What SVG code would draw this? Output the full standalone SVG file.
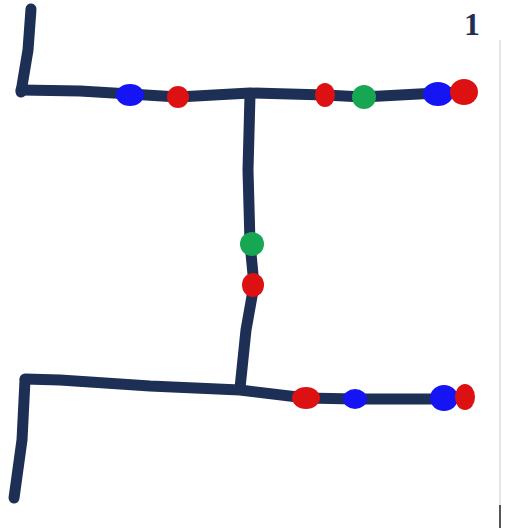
<svg xmlns="http://www.w3.org/2000/svg" width="517" height="528" viewBox="0 0 517 528">
<style>
.ln{fill:none;stroke:#1d2f55;stroke-width:11;stroke-linecap:round;stroke-linejoin:round}
.b{fill:#1414f5}
.r{fill:#dd1111}
.g{fill:#17a752}
</style>
<rect width="517" height="528" fill="#ffffff"/>
<text x="464" y="35" font-family="Liberation Serif, serif" font-weight="bold" font-size="32" fill="#1d2f55">1</text>
<line x1="500" y1="40" x2="500" y2="528" stroke="#dcdcdc" stroke-width="1.5"/>
<line x1="500" y1="505" x2="500" y2="528" stroke="#555" stroke-width="2"/>
<g id="connectors">
<path class="ln" d="M31 9 L28 50 L21 92"/>
<path class="ln" d="M21 90 L80 91 L130 94 L178 97 L250 93 L325 95 L363 97 L437 93 L466 92"/>
<path class="ln" d="M250 95 L248 170 L250 243 L254 285 L246 330 L240 388"/>
<path class="ln" d="M25 379 L60 380 L150 386 L240 390 L306 398 L355 399 L445 399 L466 398"/>
<path class="ln" d="M25 380 L22 440 L14 498"/>
</g>
<g id="dots">
<ellipse class="b" cx="130" cy="95" rx="14" ry="11"/>
<ellipse class="r" cx="178" cy="97" rx="11" ry="11"/>
<ellipse class="r" cx="325" cy="95" rx="10" ry="12"/>
<ellipse class="g" cx="364" cy="97" rx="12" ry="12"/>
<ellipse class="b" cx="438" cy="94" rx="15" ry="12"/>
<ellipse class="r" cx="464" cy="92" rx="14" ry="13"/>
<ellipse class="g" cx="252" cy="244" rx="12" ry="12"/>
<ellipse class="r" cx="253" cy="285" rx="11" ry="12"/>
<ellipse class="r" cx="306" cy="398" rx="14" ry="11"/>
<ellipse class="b" cx="355" cy="399" rx="12" ry="10"/>
<ellipse class="b" cx="444" cy="398" rx="14" ry="13"/>
<ellipse class="r" cx="465" cy="397" rx="10" ry="13"/>
</g>
</svg>
